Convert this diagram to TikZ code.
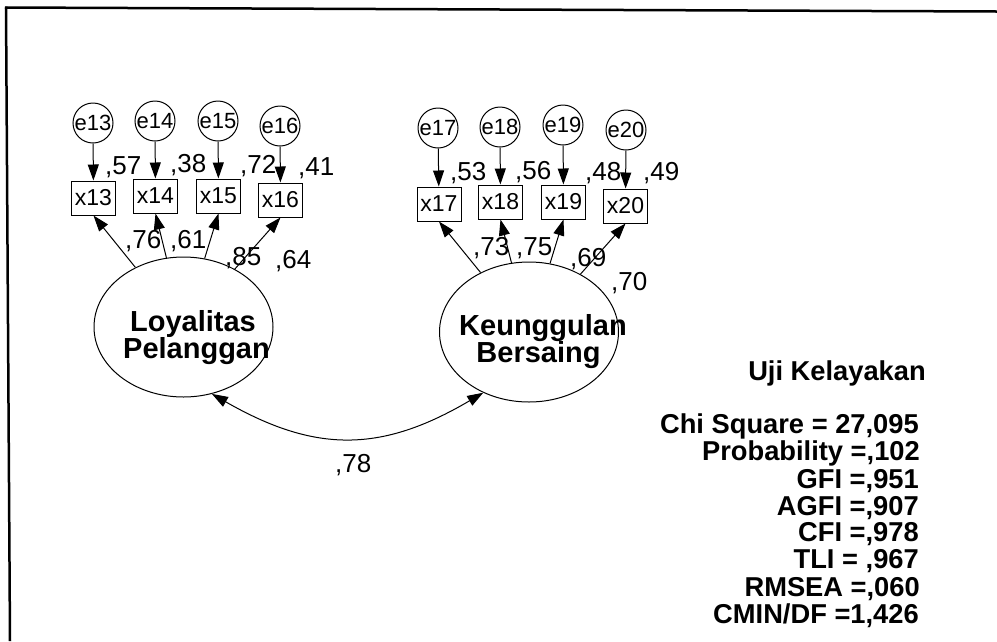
\documentclass[tikz,border=0pt]{standalone}
\usepackage{fontspec}
\setmainfont{Liberation Sans}
\usetikzlibrary{arrows.meta,shapes.geometric}
\begin{document}
\begin{tikzpicture}[x=1pt,y=-1pt,
  every node/.style={inner sep=0pt},
  errc/.style={circle,draw,line width=1pt,minimum size=40pt,font=\fontsize{22}{22}\selectfont},
  obsbox/.style={rectangle,draw,line width=1pt,minimum width=44pt,minimum height=34pt,font=\fontsize{23}{23}\selectfont},
  latent/.style={ellipse,draw,line width=1pt,minimum width=179pt,minimum height=140pt},
  lattext/.style={font=\bfseries\fontsize{29}{29}\selectfont,anchor=base},
  coef/.style={font=\fontsize{26}{26}\selectfont,anchor=base west},
  stat/.style={font=\bfseries\fontsize{27.3}{27.3}\selectfont,anchor=base east},
  arr/.style={line width=1pt,-{Triangle[length=16pt,width=11pt]}},
  dblarr/.style={line width=1pt,{Triangle[length=16pt,width=11pt]}-{Triangle[length=16pt,width=11pt]}},
  frameline/.style={line width=2.5pt}
]
\useasboundingbox (0,0) rectangle (997,641);
% frame (top and left only)
\draw[frameline] (5,7.5) -- (997,11.5);
\draw[frameline] (6,6.5) -- (10,641);

% latent variables
\node[latent] (L) at (183.5,327) {};
\node[latent] (K) at (529,332) {};
\node[lattext] (Lt1) at (193,331) {Loyalitas};
\node[lattext] (Lt2) at (196.5,358.5) {Pelanggan};
\node[lattext] (Kt1) at (543,335) {Keunggulan};
\node[lattext] (Kt2) at (538.5,362.5) {Bersaing};

% error terms
\node[errc] (e13) at (93,123) {e13};
\node[errc] (e14) at (155,121) {e14};
\node[errc] (e15) at (218,121) {e15};
\node[errc] (e16) at (280,126) {e16};
\node[errc] (e17) at (438,128) {e17};
\node[errc] (e18) at (500,127) {e18};
\node[errc] (e19) at (563,125) {e19};
\node[errc] (e20) at (626,130) {e20};

% observed variables
\node[obsbox] (x13) at (93.5,198) {x13};
\node[obsbox] (x14) at (155.5,196) {x14};
\node[obsbox] (x15) at (218.5,196) {x15};
\node[obsbox] (x16) at (280.5,200) {x16};
\node[obsbox] (x17) at (439,204) {x17};
\node[obsbox] (x18) at (500.5,202) {x18};
\node[obsbox] (x19) at (563.5,202) {x19};
\node[obsbox] (x20) at (625.5,206) {x20};

% error arrows
\foreach \i in {13,...,20} \draw[arr] (e\i) -- (x\i);
% loading arrows
\foreach \i in {13,...,16} \draw[arr] (L) -- (x\i.south);
\foreach \i in {17,...,20} \draw[arr] (K) -- (x\i.south);
% correlation
\draw[dblarr] (L.-67) .. controls (315,453) and (381,453) .. (K.-127);

% squared multiple correlations
\node[coef] (r13) at (105,174) {,57};
\node[coef] (r14) at (170,172) {,38};
\node[coef] (r15) at (240,173) {,72};
\node[coef] (r16) at (298,175) {,41};
\node[coef] (r17) at (450,180) {,53};
\node[coef] (r18) at (515,179) {,56};
\node[coef] (r19) at (585,180) {,48};
\node[coef] (r20) at (643,180) {,49};
% loadings
\node[coef] (l13) at (125,248) {,76};
\node[coef] (l14) at (170,248) {,61};
\node[coef] (l15) at (225,265) {,85};
\node[coef] (l16) at (275,268) {,64};
\node[coef] (l17) at (473,255) {,73};
\node[coef] (l18) at (516,255) {,75};
\node[coef] (l19) at (570,266) {,69};
\node[coef] (l20) at (611,290) {,70};
% covariance
\node[coef] (cv) at (335,472) {,78};

% fit statistics
\node[stat] (title) at (926,380) {Uji Kelayakan};
\node[stat] (s1) at (919,433.3) {Chi Square = 27,095};
\node[stat] (s2) at (920,460.7) {Probability =,102};
\node[stat] (s3) at (919,488) {GFI =,951};
\node[stat] (s4) at (919,515) {AGFI =,907};
\node[stat] (s5) at (919,541.7) {CFI =,978};
\node[stat] (s6) at (919,568.3) {TLI = ,967};
\node[stat] (s7) at (920,596) {RMSEA =,060};
\node[stat] (s8) at (919,623.3) {CMIN/DF =1,426};
\end{tikzpicture}
\end{document}
